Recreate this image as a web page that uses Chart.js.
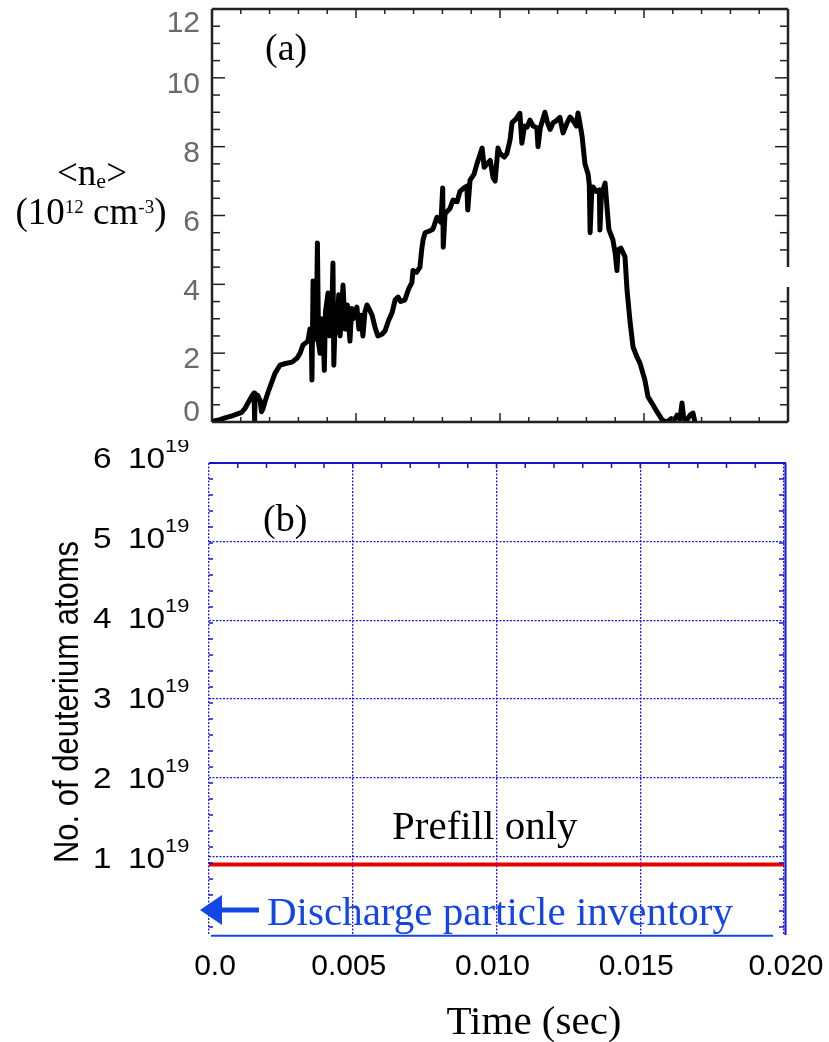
<!DOCTYPE html>
<html>
<head>
<meta charset="utf-8">
<script src="https://cdn.jsdelivr.net/npm/chart.js@4.4.0/dist/chart.umd.min.js"></script>
<style>
  html, body { margin: 0; padding: 0; background: #fff; }
  #wrap { position: relative; width: 829px; height: 1042px; overflow: hidden; }
  #densityChart { position: absolute; left: 0; top: 0; }
  #inventoryChart { position: absolute; left: 0; top: 440px; }
</style>
</head>
<body>
<div id="wrap">
  <canvas id="densityChart" width="829" height="440" style="width:829px;height:440px"></canvas>
  <canvas id="inventoryChart" width="829" height="602" style="width:829px;height:602px"></canvas>
</div>
<script>
// (a) line-averaged density trace (time in s, <ne> in 1e12 cm^-3)
const neTime = [
  0.0000, 0.0002, 0.00045, 0.0007, 0.00103, 0.00115, 0.00125, 0.00138, 0.00146, 0.00148,
  0.00150, 0.00158, 0.00167, 0.00172, 0.00177, 0.00185, 0.00194, 0.00205, 0.00219, 0.00236,
  0.00255, 0.00278, 0.00295, 0.00306, 0.00316, 0.00333, 0.00340, 0.00345, 0.00347, 0.00349,
  0.00351, 0.00355, 0.00362, 0.00366, 0.00370, 0.00375, 0.00380, 0.00385, 0.00390, 0.00394,
  0.00403, 0.00408, 0.00415, 0.00420, 0.00423, 0.00428, 0.00434, 0.00440, 0.00445, 0.00455,
  0.00462, 0.00470, 0.00479, 0.00485, 0.00490, 0.00503, 0.00510, 0.00518, 0.00524, 0.00531,
  0.00538, 0.00545, 0.00556, 0.00566, 0.00576, 0.00590, 0.00601, 0.00613, 0.00625, 0.00636,
  0.00646, 0.00655, 0.00670, 0.00682, 0.00694, 0.00698, 0.00710, 0.00722, 0.00728, 0.00733,
  0.00740, 0.00755, 0.00767, 0.00781, 0.00795, 0.00801, 0.00803, 0.00809, 0.00826, 0.00837,
  0.00851, 0.00861, 0.00875, 0.00885, 0.00888, 0.00896, 0.00910, 0.00920, 0.00938, 0.00945,
  0.00955, 0.00966, 0.00976, 0.00983, 0.00993, 0.01000, 0.01015, 0.01024, 0.01035, 0.01042,
  0.01055, 0.01069, 0.01076, 0.01085, 0.01094, 0.01104, 0.01115, 0.01128, 0.01132, 0.01140,
  0.01156, 0.01165, 0.01174, 0.01184, 0.01195, 0.01208, 0.01219, 0.01233, 0.01243, 0.01253,
  0.01265, 0.01271, 0.01280, 0.01285, 0.01295, 0.01306, 0.01310, 0.01313, 0.01318, 0.01323,
  0.01335, 0.01345, 0.01347, 0.01352, 0.01365, 0.01372, 0.01378, 0.01392, 0.01400, 0.01406,
  0.01410, 0.01420, 0.01434, 0.01441, 0.01452, 0.01462, 0.01475, 0.01486, 0.01503, 0.01514,
  0.01531, 0.01545, 0.01563, 0.01580, 0.01595, 0.01605, 0.01615, 0.01625, 0.01632, 0.01638,
  0.01649, 0.01660, 0.01670, 0.01678, 0.01684
];
const neDensity = [
  0.02, 0.05, 0.12, 0.18, 0.28, 0.40, 0.55, 0.75, 0.84, 0.05,
  0.80, 0.78, 0.62, 0.30, 0.38, 0.62, 0.85, 1.10, 1.42, 1.65,
  1.70, 1.74, 1.85, 2.00, 2.24, 2.35, 2.70, 2.45, 1.22, 2.60,
  4.10, 2.80, 2.40, 5.20, 2.30, 2.00, 3.00, 2.90, 1.50, 3.20,
  3.75, 2.50, 2.90, 4.62, 1.65, 3.10, 2.60, 3.70, 2.50, 3.98,
  2.70, 3.40, 2.35, 3.30, 3.00, 3.34, 2.70, 3.10, 2.50, 3.20,
  3.40, 3.30, 3.10, 2.75, 2.50, 2.55, 2.65, 2.95, 3.17, 3.55,
  3.63, 3.50, 3.55, 3.85, 4.05, 4.40, 4.35, 4.50, 5.00, 5.30,
  5.50, 5.55, 5.60, 5.95, 5.80, 6.80, 5.08, 6.05, 6.20, 6.45,
  6.40, 6.70, 6.80, 6.85, 6.16, 7.03, 7.20, 7.50, 7.96, 7.40,
  7.50, 7.60, 7.10, 7.00, 7.96, 7.80, 7.70, 7.80, 8.20, 8.70,
  8.80, 8.97, 8.10, 8.60, 8.57, 8.77, 8.60, 8.55, 8.00, 8.55,
  9.00, 8.70, 8.50, 8.69, 8.75, 8.85, 8.40, 8.69, 8.86, 8.77,
  8.60, 8.98, 8.55, 8.30, 7.50, 7.20, 6.90, 5.50, 6.60, 6.83,
  6.70, 6.74, 5.58, 6.60, 6.94, 6.20, 5.60, 5.29, 4.90, 4.40,
  5.00, 5.05, 4.80, 3.84, 2.88, 2.18, 1.90, 1.71, 1.22, 0.73,
  0.50, 0.30, 0.06, 0.00, 0.10, 0.05, 0.20, 0.08, 0.55, 0.10,
  0.06, 0.20, 0.26, -0.05, 0.00
];
const densityTicks = [0, 2, 4, 6, 8, 10, 12];

// (b) deuterium inventory
const prefillTime = [0, 0.02];
const prefillAtoms = [0.98e19, 0.98e19];
const atomTickMantissa = [1, 2, 3, 4, 5, 6];
const timeTicks = [0, 0.005, 0.010, 0.015, 0.020];
const timeTickLabels = ['0.0', '0.005', '0.010', '0.015', '0.020'];

const SERIF = '"Liberation Serif", "Times New Roman", serif';
const SANS = '"Liberation Sans", Arial, sans-serif';
const gridBlue = '#1a1aff';
const frameBlue = '#1414cc';
const textBlue = '#1446e6';

function seg(ctx, x1, y1, x2, y2) {
  ctx.beginPath();
  ctx.moveTo(x1, y1);
  ctx.lineTo(x2, y2);
  ctx.stroke();
}

// text with sub/superscripts, centred on cx
function drawRich(ctx, parts, cx, base, size) {
  const fontOf = p => (p.sup ? Math.round(size * 0.5) : p.sub ? Math.round(size * 0.6) : size) + 'px ' + SERIF;
  let w = 0;
  parts.forEach(p => { ctx.font = fontOf(p); w += ctx.measureText(p.s).width; });
  let xx = cx - w / 2;
  ctx.textAlign = 'left';
  ctx.textBaseline = 'alphabetic';
  parts.forEach(p => {
    ctx.font = fontOf(p);
    const dy = p.sup ? -0.3 * size : p.sub ? 0.08 * size : 0;
    ctx.fillText(p.s, xx, base + dy);
    xx += ctx.measureText(p.s).width;
  });
}

const densityDecor = {
  id: 'densityDecor',
  afterDraw(chart) {
    const { ctx, chartArea: a, scales: { x, y } } = chart;
    const gapTop = 267, gapBottom = 287;
    ctx.save();
    ctx.strokeStyle = '#222';
    ctx.lineWidth = 1.5;
    // inward ticks on top and bottom, every 1 ms
    for (let k = 1; k < 20; k++) {
      const px = x.getPixelForValue(k * 0.001);
      const len = k % 5 === 0 ? 9 : 5;
      seg(ctx, px, a.top, px, a.top + len);
      seg(ctx, px, a.bottom, px, a.bottom - len);
    }
    // inward ticks on left and right, every 0.5
    for (let k = 1; k < 24; k++) {
      const py = y.getPixelForValue(k * 0.5);
      const len = k % 4 === 0 ? 13 : 8;
      seg(ctx, a.left, py, a.left + len, py);
      if (py < gapTop - 2 || py > gapBottom + 2) seg(ctx, a.right, py, a.right - len, py);
    }
    // frame, right side broken
    ctx.lineWidth = 2.5;
    seg(ctx, a.left, a.top, a.right, a.top);
    seg(ctx, a.left, a.bottom, a.right, a.bottom);
    seg(ctx, a.left, a.top, a.left, a.bottom);
    seg(ctx, a.right, a.top, a.right, gapTop);
    seg(ctx, a.right, gapBottom, a.right, a.bottom);

    // y tick labels
    ctx.fillStyle = '#6a6a6a';
    ctx.font = '30px ' + SANS;
    ctx.textAlign = 'right';
    ctx.textBaseline = 'middle';
    densityTicks.forEach(v => {
      const py = Math.min(Math.max(y.getPixelForValue(v) + 7, a.top + 15), a.bottom - 9);
      ctx.fillText(String(v), 200, py);
    });

    // axis title and panel tag
    ctx.fillStyle = '#000';
    drawRich(ctx, [{ s: '<n' }, { s: 'e', sub: true }, { s: '>' }], 92, 185, 37);
    drawRich(ctx, [{ s: '(10' }, { s: '12', sup: true }, { s: ' cm' }, { s: '-3', sup: true }, { s: ')' }], 91, 224, 37);
    ctx.font = '38px ' + SERIF;
    ctx.textAlign = 'left';
    ctx.textBaseline = 'alphabetic';
    ctx.fillText('(a)', 265, 60);
    ctx.restore();
  }
};

const inventoryDecor = {
  id: 'inventoryDecor',
  afterDraw(chart) {
    const { ctx, chartArea: a, scales: { x, y } } = chart;
    ctx.save();
    ctx.strokeStyle = frameBlue;
    ctx.lineWidth = 1.5;
    for (let k = 1; k < 20; k++) {
      const px = x.getPixelForValue(k * 0.001);
      seg(ctx, px, a.top, px, a.top + 5);
    }
    for (let k = 1; k < 30; k++) {
      const py = y.getPixelForValue(k * 0.2e19);
      seg(ctx, a.left, py, a.left + 4, py);
      seg(ctx, a.right, py, a.right - 5, py);
    }
    ctx.lineWidth = 2;
    seg(ctx, a.left, a.top, a.right + 2, a.top);
    seg(ctx, a.right + 1.5, a.top, a.right + 1.5, a.bottom);

    // x tick labels
    ctx.fillStyle = '#000';
    ctx.font = '30px ' + SANS;
    ctx.textAlign = 'center';
    ctx.textBaseline = 'middle';
    timeTicks.forEach((t, i) => {
      let px = x.getPixelForValue(t);
      px += i === 0 ? 6 : (i === 4 ? 2 : -4);
      ctx.fillText(timeTickLabels[i], px, 967 - 440);
    });

    // y tick labels "n 10^19", slightly wide glyphs as in the figure
    ctx.textAlign = 'left';
    ctx.textBaseline = 'alphabetic';
    const wide = (s, px, base, size) => {
      ctx.save();
      ctx.translate(px, base);
      ctx.scale(1.15, 1);
      ctx.font = size + 'px ' + SANS;
      ctx.fillText(s, 0, 0);
      ctx.restore();
    };
    atomTickMantissa.forEach(m => {
      const py = y.getPixelForValue(m * 1e19);
      wide(String(m), 93, py + 5, 29);
      wide('10', 128, py + 5, 29);
      wide('19', 165, py - 11, 19);
    });

    // rotated axis title
    ctx.save();
    ctx.translate(68, 702 - 440);
    ctx.scale(1.15, 1);
    ctx.rotate(-Math.PI / 2);
    ctx.font = '31px ' + SANS;
    ctx.textAlign = 'center';
    ctx.textBaseline = 'middle';
    ctx.fillText('No. of deuterium atoms', 0, 0);
    ctx.restore();

    // annotations
    ctx.textAlign = 'left';
    ctx.textBaseline = 'alphabetic';
    ctx.font = '38px ' + SERIF;
    ctx.fillText('(b)', 263, 531 - 440);
    ctx.font = '41px ' + SERIF;
    ctx.fillText('Prefill only', 392, 839 - 440);
    ctx.textAlign = 'center';
    ctx.fillText('Time (sec)', 534, 1034 - 440);

    ctx.fillStyle = textBlue;
    ctx.strokeStyle = textBlue;
    ctx.textAlign = 'left';
    ctx.fillText('Discharge particle inventory', 267, 925 - 440);
    ctx.lineWidth = 2;
    seg(ctx, 211, 935.7 - 440, 773, 935.7 - 440);
    // arrow pointing at the axis
    const ay = 910 - 440;
    ctx.beginPath();
    ctx.moveTo(200, ay);
    ctx.lineTo(222, ay - 15);
    ctx.lineTo(222, ay + 15);
    ctx.closePath();
    ctx.fill();
    ctx.fillRect(221, ay - 2.5, 38, 5);
    ctx.restore();
  }
};

new Chart(document.getElementById('densityChart'), {
  type: 'line',
  data: {
    datasets: [{
      label: '<ne>',
      data: neTime.map((t, i) => ({ x: t, y: neDensity[i] })),
      borderColor: '#000',
      borderWidth: 5,
      borderJoinStyle: 'round',
      pointRadius: 0,
      tension: 0,
      fill: false
    }]
  },
  options: {
    responsive: false,
    animation: false,
    devicePixelRatio: 1,
    layout: { padding: { left: 212, right: 41, top: 9, bottom: 18 } },
    plugins: { legend: { display: false }, tooltip: { enabled: false } },
    scales: {
      x: { type: 'linear', display: false, min: 0, max: 0.02 },
      y: { type: 'linear', display: false, min: 0, max: 12 }
    }
  },
  plugins: [densityDecor]
});

new Chart(document.getElementById('inventoryChart'), {
  type: 'line',
  data: {
    datasets: [{
      label: 'Prefill only',
      data: prefillTime.map((t, i) => ({ x: t, y: prefillAtoms[i] })),
      borderColor: '#e60000',
      borderWidth: 4,
      pointRadius: 0,
      fill: false
    }]
  },
  options: {
    responsive: false,
    animation: false,
    devicePixelRatio: 1,
    layout: { padding: { left: 209, right: 45, top: 23, bottom: 107 } },
    plugins: { legend: { display: false }, tooltip: { enabled: false } },
    scales: {
      x: {
        type: 'linear',
        min: 0,
        max: 0.02,
        afterFit(s) { s.height = 0; },
        border: { display: false, dash: [2, 1.5] },
        grid: { color: gridBlue, lineWidth: 1.3, drawTicks: false },
        ticks: { stepSize: 0.005, display: false }
      },
      y: {
        type: 'linear',
        min: 0.1e19,
        max: 6e19,
        afterFit(s) { s.width = 0; },
        border: { display: false, dash: [2, 1.5] },
        grid: {
          color: c => (c.tick && c.tick.value < 1e19 ? 'rgba(0,0,0,0)' : gridBlue),
          lineWidth: 1.3,
          drawTicks: false
        },
        ticks: { stepSize: 1e19, display: false }
      }
    }
  },
  plugins: [inventoryDecor]
});
</script>
</body>
</html>
